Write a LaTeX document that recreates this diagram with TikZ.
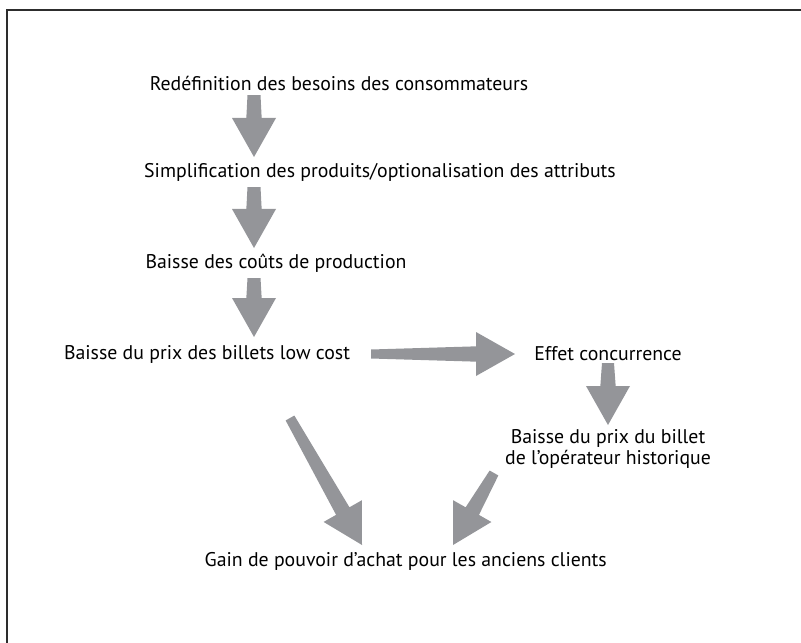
\documentclass[tikz,border=0pt]{standalone}
\usepackage{fontspec}
\setmainfont{PT Sans}
\usetikzlibrary{calc}
\definecolor{flechegris}{RGB}{148,149,153}
\definecolor{cadregris}{RGB}{45,45,45}
% grosse fleche grise : [demi-largeur au depart]{depart}{pointe}
\newcommand{\fleche}[3][0.18cm]{%
	\coordinate (hb) at ($(#3)!1.17cm!(#2)$);
	\fill[flechegris] ($(#2)!#1!90:(#3)$) -- ($(hb)!0.23cm!90:(#3)$) -- ($(hb)!0.66cm!90:(#3)$)
		-- (#3) -- ($(hb)!0.66cm!-90:(#3)$) -- ($(hb)!0.23cm!-90:(#3)$) -- ($(#2)!#1!-90:(#3)$) -- cycle;}
\tikzset{etape/.style={inner sep=0pt, font=\fontsize{16.9}{18}\selectfont, align=center}}

\begin{document}
\begin{tikzpicture}[x=0.03cm, y=-0.03cm]
		%%%%% START %%%%%
		\useasboundingbox (0, 0) rectangle (801, 643);
		\draw[cadregris, line width=0.06cm] (7, 643) -- (7, 10) -- (801, 10);
		
		\node[etape] (redef) at (339, 83) {Redéfinition des besoins des consommateurs};
		\node[etape] (simpl) at (380, 172) {Simplification des produits/optionalisation des attributs};
		\node[etape] (couts) at (276, 263) {Baisse des coûts de production};
		\node[etape] (billets) at (207, 354) {Baisse du prix des billets low cost};
		\node[etape] (effet) at (608, 354) {Effet concurrence};
		\node[etape] (histo) at (608, 449) {Baisse du prix du billet\\de l’opérateur historique};
		\node[etape, anchor=east] (gain) at (607, 561) {Gain de pouvoir d’achat pour les anciens clients};
		
		\coordinate (d1) at (254, 95);   \coordinate (f1) at (254, 157);
		\coordinate (d2) at (254, 187);  \coordinate (f2) at (254, 248);
		\coordinate (d3) at (254, 278);  \coordinate (f3) at (254, 337);
		\coordinate (d4) at (371, 354);  \coordinate (f4) at (515, 354);
		\coordinate (d5) at (608, 363);  \coordinate (f5) at (608, 425);
		\coordinate (d6) at (290, 418);  \coordinate (f6) at (362, 545);
		\coordinate (d7) at (494, 473);  \coordinate (f7) at (453, 545);
		
		\fleche[0.195cm]{d1}{f1}
		\fleche[0.195cm]{d2}{f2}
		\fleche[0.195cm]{d3}{f3}
		\fleche[0.135cm]{d4}{f4}
		\fleche{d5}{f5}
		\fleche[0.15cm]{d6}{f6}
		\fleche[0.15cm]{d7}{f7}
		%%%%% END %%%%%
	\end{tikzpicture}
\end{document}
